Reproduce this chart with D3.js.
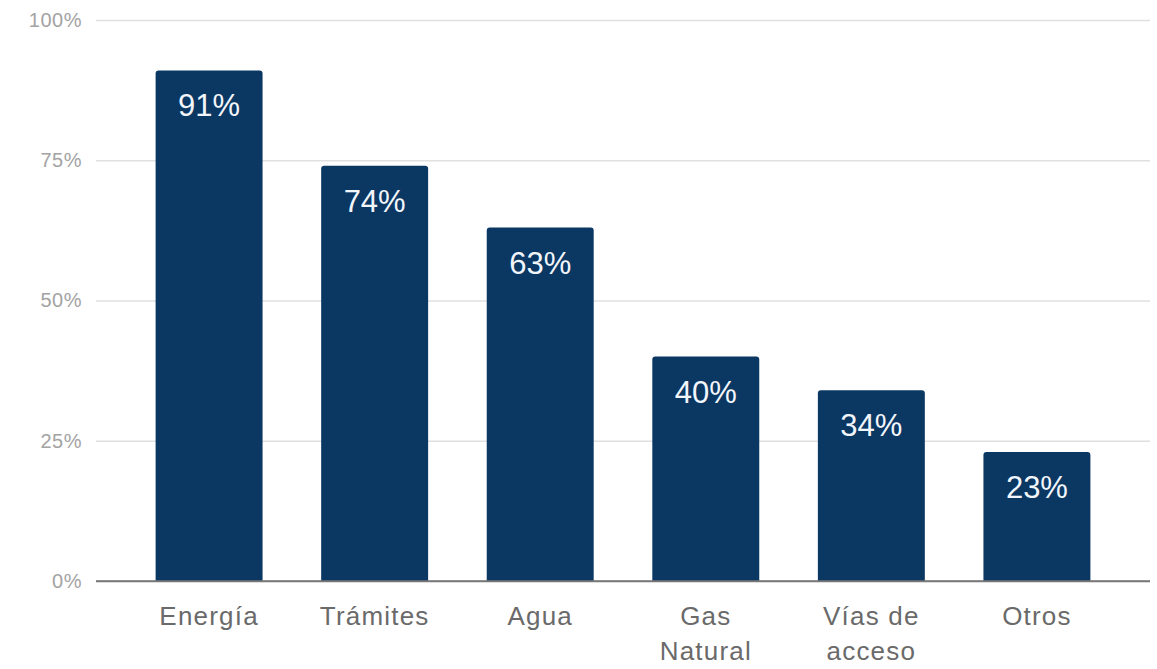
<!DOCTYPE html>
<html>
<head>
<meta charset="utf-8">
<script src="https://cdn.jsdelivr.net/npm/d3@7"></script>
<style>
  body { margin: 0; background: #fff; }
  svg { display: block; font-family: "Liberation Sans", Arial, sans-serif; }
</style>
</head>
<body>
<div class="chart"></div>
<script>
// data
var categories = ['Energía', 'Trámites', 'Agua', 'Gas Natural', 'Vías de acceso', 'Otros'];
var labelLines = [['Energía'], ['Trámites'], ['Agua'], ['Gas', 'Natural'], ['Vías de', 'acceso'], ['Otros']];
var values = [91, 74, 63, 40, 34, 23];
var yTicks = [0, 25, 50, 75, 100];

var width = 1157, height = 669;
var margin = { top: 20, right: 7, bottom: 88, left: 96 };
var innerW = width - margin.left - margin.right;
var innerH = height - margin.top - margin.bottom;

var svg = d3.select('.chart')
  .append('svg')
  .attr('width', width)
  .attr('height', height)
  .append('g')
  .attr('transform', `translate(${margin.left}, ${margin.top})`);

var xScale = d3.scaleBand()
  .domain(categories)
  .range([0, innerW])
  .paddingInner(0.354)
  .paddingOuter(0.36);

var yScale = d3.scaleLinear()
  .domain([0, 100])
  .range([innerH, 0]);

// gridlines + y labels
var yAxis = d3.axisLeft(yScale)
  .tickValues(yTicks)
  .tickSize(-innerW)
  .tickPadding(14)
  .tickFormat(d => d + '%');
var gy = svg.append('g').call(yAxis);
gy.select('.domain').remove();
gy.selectAll('line')
  .style('stroke', d => d === 0 ? '#777' : '#e0e0e0')
  .style('stroke-width', 1.5);
gy.selectAll('text')
  .style('fill', '#a3a3a3')
  .style('font-size', '20px')
  .style('letter-spacing', '0.5px');

// bars
svg.selectAll('.bar')
  .data(values)
  .enter()
  .append('path')
  .attr('class', 'bar')
  .attr('d', (d, i) => {
    var x = xScale(categories[i]), w = xScale.bandwidth();
    var y = yScale(d), r = 3;
    return `M${x},${innerH}V${y + r}Q${x},${y} ${x + r},${y}H${x + w - r}Q${x + w},${y} ${x + w},${y + r}V${innerH}Z`;
  })
  .style('fill', '#0b3763');

// redraw baseline over bars
svg.append('line')
  .attr('x1', 0).attr('x2', innerW)
  .attr('y1', yScale(0)).attr('y2', yScale(0))
  .style('stroke', '#777')
  .style('stroke-width', 1.5);

// value labels
svg.selectAll('.val')
  .data(values)
  .enter()
  .append('text')
  .attr('class', 'val')
  .attr('x', (d, i) => xScale(categories[i]) + xScale.bandwidth() / 2)
  .attr('y', d => yScale(d) + 46)
  .style('text-anchor', 'middle')
  .style('fill', '#f2f6fb')
  .style('font-size', '31px')
  .text(d => d + '%');

// category labels
var cat = svg.selectAll('.cat')
  .data(labelLines)
  .enter()
  .append('text')
  .attr('class', 'cat')
  .attr('x', (d, i) => xScale(categories[i]) + xScale.bandwidth() / 2)
  .attr('y', innerH + 44)
  .style('text-anchor', 'middle')
  .style('fill', '#6a6a6a')
  .style('font-size', '26px')
  .style('letter-spacing', '1.2px');
cat.selectAll('tspan')
  .data(d => d)
  .enter()
  .append('tspan')
  .attr('x', function () { return d3.select(this.parentNode).attr('x'); })
  .attr('dy', (d, i) => i === 0 ? 0 : 35)
  .text(d => d);
</script>
</body>
</html>
